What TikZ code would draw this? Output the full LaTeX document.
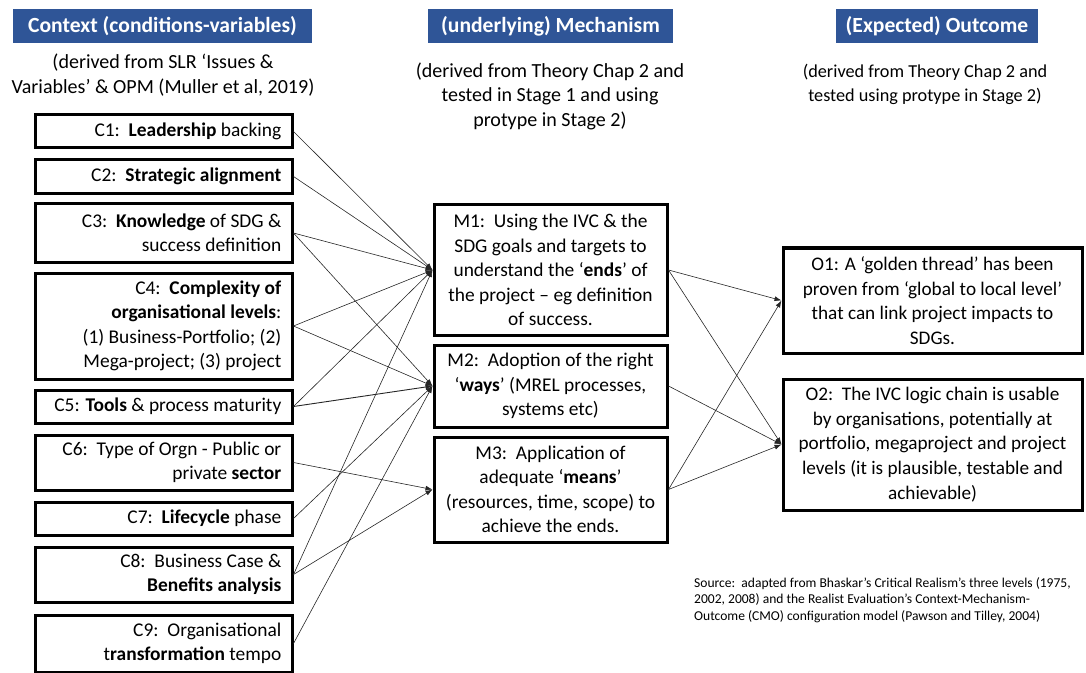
\documentclass[tikz,border=0pt]{standalone}
\usepackage{fontspec}
\setmainfont{Carlito}
\usetikzlibrary{arrows.meta}
\definecolor{hdrblue}{RGB}{47,85,151}
\begin{document}
\begin{tikzpicture}[x=1bp,y=-1bp,
  boxfont/.style={font=\fontsize{19.5}{24.5}\selectfont},
  box/.style={draw=black, line width=3bp, inner xsep=8bp, inner ysep=0bp, boxfont},
  cbox/.style={box, minimum width=256bp},
  ctext/.style={boxfont, align=right, inner sep=0pt, anchor=east},
  mech/.style={box, minimum width=233bp, align=center},
  outc/.style={box, minimum width=299bp, align=center, font=\fontsize{19.3}{24.8}\selectfont},
  hdr/.style={fill=hdrblue, text=white, font=\fontsize{21.7}{26}\selectfont\bfseries,
    inner sep=0pt, minimum height=34bp},
  sub/.style={align=center, font=\fontsize{20.1}{24.5}\selectfont, inner sep=0pt},
  link/.style={-{Latex[length=7bp,width=5bp]}, line width=0.6bp, draw=black!85},
]
\useasboundingbox (0,0) rectangle (1086,673);

% column headers
\node[hdr, minimum width=299bp] (hctx) at (162.5,26) {Context (conditions-variables)};
\node[hdr, minimum width=245bp] (hmech) at (550.5,26) {(underlying) Mechanism};
\node[hdr, minimum width=202bp] (hout) at (937,26) {(Expected) Outcome};

% column notes
\node[sub] (sctx) at (163,75) {(derived from SLR ‘Issues \&\\Variables’ \& OPM (Muller et al, 2019)};
\node[sub] (smech) at (550,96) {(derived from Theory Chap 2 and\\tested in Stage 1 and using\\protype in Stage 2)};
\node[sub, font=\fontsize{18.3}{24}\selectfont] (sout) at (925,84) {(derived from Theory Chap 2 and\\tested using protype in Stage 2)};

% context boxes (frame, then right-aligned text)
\node[cbox, minimum height=33bp] (c1) at (164,131.5) {};
\node[cbox, minimum height=33bp] (c2) at (164,176.5) {};
\node[cbox, minimum height=58bp] (c3) at (164,233) {};
\node[cbox, minimum height=106bp] (c4) at (164,326) {};
\node[cbox, minimum height=33bp] (c5) at (164,406.5) {};
\node[cbox, minimum height=55bp] (c6) at (164,462.5) {};
\node[cbox, minimum height=33bp] (c7) at (164,518.5) {};
\node[cbox, minimum height=55bp] (c8) at (164,574.5) {};
\node[cbox, minimum height=57bp] (c9) at (164,643.5) {};

\node[ctext] (c1t) at ([xshift=-12bp]c1.east) {C1:\ \ \textbf{Leadership} backing};
\node[ctext] (c2t) at ([xshift=-12bp]c2.east) {C2:\ \ \textbf{Strategic alignment}};
\node[ctext] (c3t) at ([xshift=-12bp]c3.east) {C3:\ \ \textbf{Knowledge} of SDG \&\\success definition};
\node[ctext] (c4t) at ([xshift=-12bp]c4.east) {C4:\ \ \textbf{Complexity of}\\\textbf{organisational levels}:\\(1) Business-Portfolio; (2)\\Mega-project; (3) project};
\node[ctext] (c5t) at ([xshift=-12bp]c5.east) {C5: \textbf{Tools} \& process maturity};
\node[ctext] (c6t) at ([xshift=-12bp]c6.east) {C6:\ \ Type of Orgn - Public or\\private \textbf{sector}};
\node[ctext] (c7t) at ([xshift=-12bp]c7.east) {C7:\ \ \textbf{Lifecycle} phase};
\node[ctext] (c8t) at ([xshift=-12bp]c8.east) {C8:\ \ Business Case \&\\\textbf{Benefits analysis}};
\node[ctext] (c9t) at ([xshift=-12bp]c9.east) {C9:\ \ Organisational\\t\textbf{ransformation} tempo};

% mechanism boxes
\node[mech, minimum height=130bp] (m1) at (550.5,270) {M1:\ \ Using the IVC \& the\\SDG goals and targets to\\understand the ‘\textbf{ends}’ of\\the project – eg definition\\of success.};
\node[mech, minimum height=82bp] (m2) at (550.5,386) {M2:\ \ Adoption of the right\\‘\textbf{ways}’ (MREL processes,\\systems etc)};
\node[mech, minimum height=105bp] (m3) at (550.5,489.5) {M3:\ \ Application of\\adequate ‘\textbf{means}’\\(resources, time, scope) to\\achieve the ends.};

% outcome boxes
\node[outc, minimum height=105bp] (o1) at (932.5,300.5) {O1: A ‘golden thread’ has been\\proven from ‘global to local level’\\that can link project impacts to\\SDGs.};
\node[outc, minimum height=131bp] (o2) at (932.5,444.5) {O2:\ \ The IVC logic chain is usable\\by organisations, potentially at\\portfolio, megaproject and project\\levels (it is plausible, testable and\\achievable)};

% source note
\node[anchor=north west, align=left, inner sep=0pt,
  font=\fontsize{13.6}{16.7}\selectfont] (src) at (694,577)
  {Source:\ \ adapted from Bhaskar’s Critical Realism’s three levels (1975,\\2002, 2008) and the Realist Evaluation’s Context-Mechanism-\\Outcome (CMO) configuration model (Pawson and Tilley, 2004)};

% context -> mechanism links
\draw[link] (c1.east) -- (m1.west);
\draw[link] (c2.east) -- (m1.west);
\draw[link] (c3.east) -- (m1.west);
\draw[link] (c3.east) -- (m2.west);
\draw[link] (c4.east) -- (m1.west);
\draw[link] (c4.east) -- (m2.west);
\draw[link] (c5.east) -- (m1.west);
\draw[link, line width=0.9bp] (c5.east) -- (m2.west);
\draw[link] (c6.east) -- (m3.west);
\draw[link] (c7.east) -- (m2.west);
\draw[link] (c8.east) -- (m1.west);
\draw[link] (c8.east) -- (m3.west);
\draw[link] (c9.east) -- (m2.west);

% mechanism -> outcome links
\draw[link] (m1.east) -- (o1.west);
\draw[link] (m1.east) -- (o2.west);
\draw[link] (m2.east) -- (o2.west);
\draw[link] (m3.east) -- (o1.west);
\draw[link] (m3.east) -- (o2.west);
\end{tikzpicture}
\end{document}
